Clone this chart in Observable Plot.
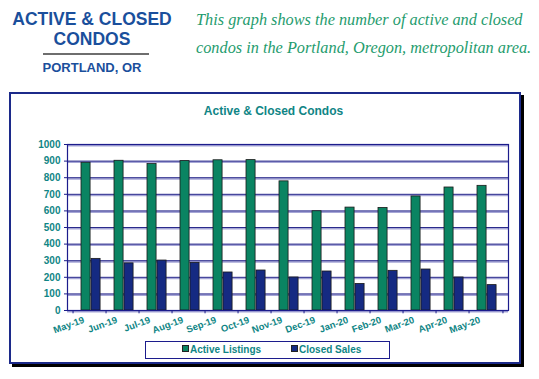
<!DOCTYPE html>
<html>
<head>
<meta charset="utf-8">
<script src="https://cdn.jsdelivr.net/npm/d3@7"></script>
<script src="https://cdn.jsdelivr.net/npm/@observablehq/plot@0.6"></script>
<style>
  html, body { margin: 0; padding: 0; background: #fff; }
  #page { position: relative; width: 539px; height: 379px; overflow: hidden; font-family: "Liberation Sans", Arial, sans-serif; }
  .hdr { position: absolute; color: #1a4f9c; font-weight: bold; text-align: center; width: 180px; left: 2px; }
  #sub { position: absolute; left: 196px; top: 6px; font-family: "Liberation Serif", serif; font-style: italic; color: #1f9c6e; font-size: 16.3px; line-height: 28px; white-space: nowrap; }
  #frame { position: absolute; left: 9px; top: 92px; width: 508px; height: 268px; border: 2px solid #1c2a8a; box-shadow: 3px 3px 0 #000; background: #fff; }
  #ctitle { position: absolute; left: 4px; width: 100%; top: 104px; text-align: center; color: #0f8585; font-weight: bold; font-size: 12px; }
  #chart { position: absolute; left: 10px; top: 125px; }
  #legend { position: absolute; left: 145px; top: 341px; width: 243px; height: 16px; border: 1.5px solid #1c1c8c; background: #fff; font-size: 10px; font-weight: bold; color: #0f8585; }
  .li { position: absolute; top: 2px; white-space: nowrap; }
  .sw { display: inline-block; width: 5px; height: 5px; border: 1px solid #222; margin-right: 1px; vertical-align: 1px; }
</style>
</head>
<body>
<div id="page">
  <div class="hdr" style="top:9px;font-size:17.5px;line-height:20px;">ACTIVE &amp; CLOSED<br>CONDOS</div>
  <div style="position:absolute;left:43px;top:53px;width:106px;height:2px;background:#6e6e6e;"></div>
  <div class="hdr" style="top:60px;font-size:13px;line-height:15px;">PORTLAND, OR</div>
  <div id="sub">This graph shows the number of active and closed<br>condos in the Portland, Oregon, metropolitan area.</div>
  <div id="frame"></div>
  <div id="ctitle">Active &amp; Closed Condos</div>
  <div id="chart"></div>
  <div id="legend">
    <span class="li" style="left:36px;"><span class="sw" style="background:#0a8462"></span>Active Listings</span>
    <span class="li" style="left:145px;"><span class="sw" style="background:#152a82"></span>Closed Sales</span>
  </div>
</div>
<script>
const months = ["May-19","Jun-19","Jul-19","Aug-19","Sep-19","Oct-19","Nov-19","Dec-19","Jan-20","Feb-20","Mar-20","Apr-20","May-20"];
const activeListings = [890, 902, 882, 900, 905, 906, 778, 598, 620, 618, 687, 741, 751];
const closedSales = [311, 284, 301, 287, 229, 241, 199, 235, 160, 239, 247, 199, 153];
const yTicks = [0,100,200,300,400,500,600,700,800,900,1000];

const W = 510, H = 215, ML = 57, MR = 12, MT = 19, MB = 30;
const bw = (W - ML - MR) / months.length;
const teal = "#0f8585";

const active = months.map((m, i) => ({month: m, value: activeListings[i]}));
const closed = months.map((m, i) => ({month: m, value: closedSales[i]}));

const chart = Plot.plot({
  width: W, height: H,
  marginLeft: ML, marginRight: MR, marginTop: MT, marginBottom: MB,
  style: {fontFamily: "Liberation Sans, Arial, sans-serif", background: "transparent", overflow: "visible"},
  x: {type: "band", domain: months, padding: 0, label: null},
  y: {domain: [0, 1000], label: null},
  marks: [
    Plot.ruleY(yTicks, {y: d => d, stroke: "#a6a6d6", strokeWidth: 2, dy: 1}),
    Plot.ruleY(yTicks, {y: d => d, stroke: "#2a2a8c", strokeWidth: 1}),
    Plot.rectY(active, {x: "month", y: "value", fill: "#0a8462", stroke: "#1a1a1a", strokeWidth: 0.8, insetLeft: 8, insetRight: bw - 18}),
    Plot.rectY(closed, {x: "month", y: "value", fill: "#152a82", stroke: "#1a1a1a", strokeWidth: 0.8, insetLeft: 18, insetRight: bw - 28}),
    Plot.frame({stroke: "#1c1c8c", strokeWidth: 1.2}),
    Plot.ruleX(months, {x: d => d, y1: 0, y2: -20, dx: -bw / 2, stroke: "#1c1c8c"}),
    Plot.ruleX([months[months.length - 1]], {x: d => d, y1: 0, y2: -20, dx: bw / 2, stroke: "#1c1c8c"}),
    Plot.axisY(yTicks, {tickSize: 3, tickPadding: 4, stroke: "#1c1c8c", fill: teal, fontSize: 10, fontWeight: "bold", tickFormat: d => String(d), label: null}),
    Plot.axisX({tickSize: 0, tickPadding: 9, tickRotate: -20, fill: teal, fontSize: 9.5, fontWeight: "bold", dx: -6, label: null}),
  ]
});
document.getElementById("chart").appendChild(chart);
</script>
</body>
</html>
